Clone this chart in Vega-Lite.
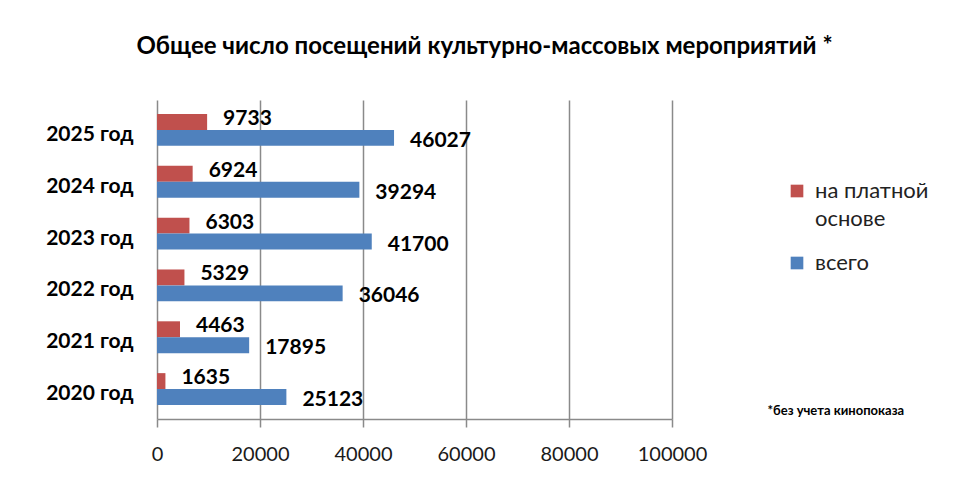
{
  "$schema": "https://vega.github.io/schema/vega-lite/v6.json",
  "width": 515,
  "height": 319,
  "autosize": {"type": "none"},
  "padding": {"left": 157, "top": 100, "right": 288, "bottom": 61},
  "background": "white",
  "config": {
    "view": {"stroke": null},
    "font": "Lato",
    "style": {"guide-label": {"lineHeight": 28}}
  },
  "title": {
    "text": "Общее число посещений культурно-массовых мероприятий *",
    "font": "Lato",
    "fontSize": 24,
    "fontWeight": "bold",
    "color": "#000000",
    "anchor": "middle",
    "baseline": "alphabetic",
    "offset": 22,
    "dx": 70
  },
  "data": {
    "values": [
      {"year": "2025 год", "series": "на платной основе", "value": 9733},
      {"year": "2025 год", "series": "всего", "value": 46027},
      {"year": "2024 год", "series": "на платной основе", "value": 6924},
      {"year": "2024 год", "series": "всего", "value": 39294},
      {"year": "2023 год", "series": "на платной основе", "value": 6303},
      {"year": "2023 год", "series": "всего", "value": 41700},
      {"year": "2022 год", "series": "на платной основе", "value": 5329},
      {"year": "2022 год", "series": "всего", "value": 36046},
      {"year": "2021 год", "series": "на платной основе", "value": 4463},
      {"year": "2021 год", "series": "всего", "value": 17895},
      {"year": "2020 год", "series": "на платной основе", "value": 1635},
      {"year": "2020 год", "series": "всего", "value": 25123}
    ]
  },
  "encoding": {
    "y": {
      "field": "year",
      "type": "nominal",
      "sort": ["2025 год", "2024 год", "2023 год", "2022 год", "2021 год", "2020 год"],
      "scale": {"paddingInner": 0.385, "paddingOuter": 0.27},
      "title": null,
      "axis": {
        "domain": false,
        "ticks": false,
        "labelPadding": 24,
        "labelOffset": 5,
        "labelFont": "Lato",
        "labelFontSize": 21,
        "labelFontWeight": "bold",
        "labelColor": "#000000"
      }
    },
    "x": {
      "field": "value",
      "type": "quantitative",
      "scale": {"domain": [0, 100000], "nice": false},
      "title": "*без учета кинопоказа",
      "axis": {
        "values": [0, 20000, 40000, 60000, 80000, 100000],
        "format": "d",
        "grid": true,
        "gridColor": "#8a8a8a",
        "gridWidth": 1.5,
        "domainColor": "#8a8a8a",
        "domainWidth": 1.5,
        "tickColor": "#8a8a8a",
        "tickWidth": 1.5,
        "tickSize": 8,
        "labelPadding": 17,
        "labelFlush": false,
        "labelOverlap": false,
        "labelFont": "Lato",
        "labelFontSize": 20,
        "labelColor": "#1a1a1a",
        "titleX": 610,
        "titleY": -9,
        "titleAlign": "left",
        "titleBaseline": "middle",
        "titleFont": "Lato",
        "titleFontSize": 13,
        "titleFontWeight": "bold",
        "titleColor": "#000000"
      }
    }
  },
  "layer": [
    {
      "mark": {"type": "bar"},
      "encoding": {
        "yOffset": {"field": "series", "sort": ["на платной основе", "всего"]},
        "color": {
          "field": "series",
          "type": "nominal",
          "scale": {"domain": ["на платной основе", "всего"], "range": ["#c0504d", "#4f81bd"]},
          "legend": {
            "title": null,
            "orient": "none",
            "legendX": 629,
            "legendY": 80,
            "padding": 0,
            "symbolType": "square",
            "symbolSize": 160,
            "symbolStrokeWidth": 0,
            "rowPadding": 22,
            "labelFont": "Lato",
            "labelFontSize": 22,
            "labelColor": "#222222",
            "labelOffset": 7,
            "labelBaseline": "middle",
            "labelExpr": "datum.label == 'на платной основе' ? ['на платной', 'основе'] : datum.label"
          }
        }
      }
    },
    {
      "transform": [{"filter": "datum.series == 'на платной основе'"}],
      "mark": {"type": "text", "align": "left", "baseline": "middle", "dx": 16, "dy": -3, "font": "Lato", "fontSize": 21, "fontWeight": "bold", "color": "#000000"},
      "encoding": {
        "yOffset": {"field": "series", "sort": ["на платной основе", "всего"]},
        "text": {"field": "value", "type": "quantitative", "format": "d"}
      }
    },
    {
      "transform": [{"filter": "datum.series == 'всего'"}],
      "mark": {"type": "text", "align": "left", "baseline": "middle", "dx": 16, "dy": 3, "font": "Lato", "fontSize": 21, "fontWeight": "bold", "color": "#000000"},
      "encoding": {
        "yOffset": {"field": "series", "sort": ["на платной основе", "всего"]},
        "text": {"field": "value", "type": "quantitative", "format": "d"}
      }
    }
  ]
}
